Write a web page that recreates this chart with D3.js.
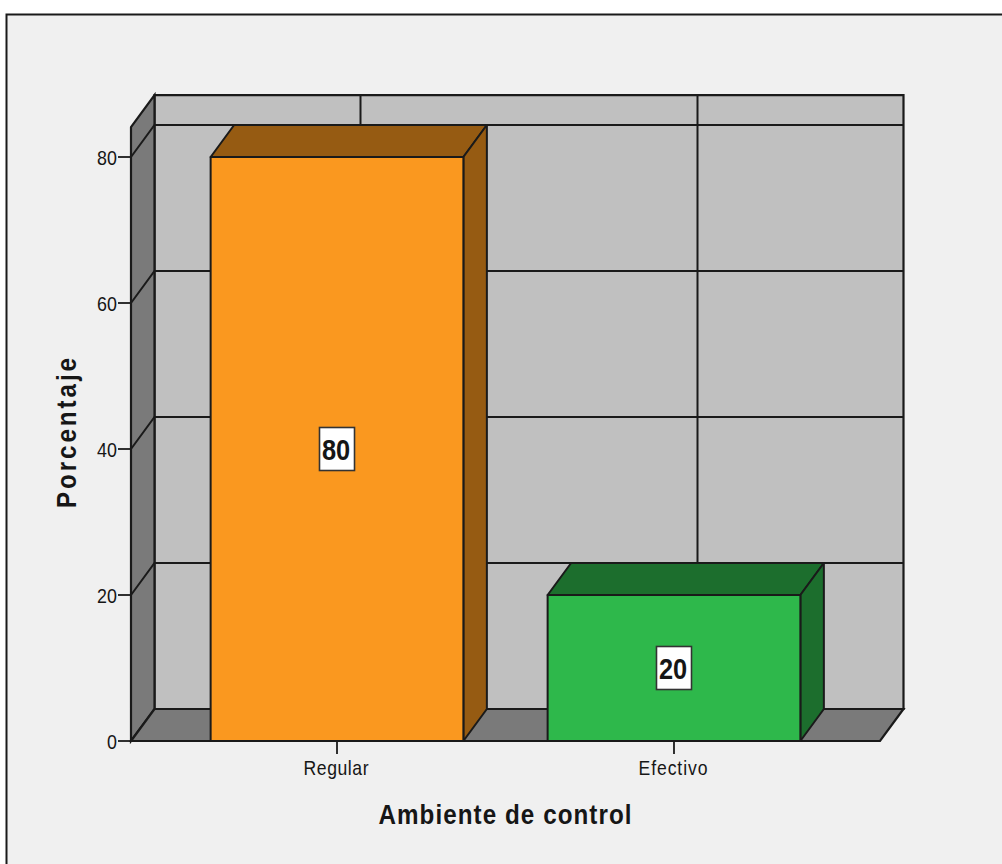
<!DOCTYPE html>
<html lang="es">
<head>
<meta charset="utf-8">
<title>Ambiente de control</title>
<script src="https://cdn.jsdelivr.net/npm/d3@7"></script>
<style>
  html, body { margin: 0; padding: 0; background: #fff; overflow: hidden; }
  svg { display: block; }
  text { font-family: "Liberation Sans", Arial, sans-serif; fill: #161616; }
</style>
</head>
<body>
<svg id="chart" width="1002" height="864"></svg>
<script>
const categories = ["Regular", "Efectivo"];
const percentages = [80, 20];
const frontColors = ["#fa981f", "#2eb84b"];
const shadeColors = ["#965b12", "#1c6e2d"];
const yTicks = [0, 20, 40, 60, 80];
const yTitle = "Porcentaje";
const xTitle = "Ambiente de control";

// Oblique projection of the 3D box
const depthX = 23.5, depthY = 32;
const ink = "#1a1a1a";
// Value at the top edge of the front plane of the box
const boxTopValue = 84.1;

const svg = d3.select("#chart");
const y = d3.scaleLinear().domain([0, 80]).range([741, 157]);
const x = d3.scaleBand().domain(categories).range([131, 880])
  .paddingInner(0.25).paddingOuter(0.2363);

const poly = pts => pts.map(p => p.join(",")).join(" ");
const back = ([px, py]) => [px + depthX, py - depthY];

// Condensed, slightly tracked text: glyphs are narrowed and the run is spread to a set length
function condensed(parent, transform, squeeze, length, size, weight, label) {
  return parent.append("text")
    .attr("transform", `${transform} scale(${squeeze},1)`)
    .attr("text-anchor", "middle")
    .attr("font-size", size).attr("font-weight", weight)
    .attr("textLength", length / squeeze).attr("lengthAdjust", "spacing")
    .text(label);
}

// Panel with its border
svg.append("rect").attr("x", 6.5).attr("y", 14.5).attr("width", 1100).attr("height", 900)
  .attr("fill", "#f0f0f0").attr("stroke", ink).attr("stroke-width", 2);

const [axisLeft, axisRight] = x.range();
const base = y(0), frontTop = y(boxTopValue);

const walls = svg.append("g").attr("stroke", ink).attr("stroke-width", 2.2).attr("stroke-linejoin", "miter");
// Back wall
walls.append("polygon")
  .attr("points", poly([back([axisLeft, base]), back([axisRight, base]), back([axisRight, frontTop]), back([axisLeft, frontTop])]))
  .attr("fill", "#c0c0c0");
// Left wall
walls.append("polygon")
  .attr("points", poly([[axisLeft, base], back([axisLeft, base]), back([axisLeft, frontTop]), [axisLeft, frontTop]]))
  .attr("fill", "#7a7a7a");
// Floor
walls.append("polygon")
  .attr("points", poly([[axisLeft, base], [axisRight, base], back([axisRight, base]), back([axisLeft, base])]))
  .attr("fill", "#7a7a7a");

// Gridlines run along the left wall and across the back wall
const grid = svg.append("g").attr("fill", "none").attr("stroke", ink).attr("stroke-width", 2);
yTicks.filter(t => t > 0).forEach(t => {
  grid.append("polyline")
    .attr("points", poly([[axisLeft, y(t)], back([axisLeft, y(t)]), back([axisRight, y(t)])]));
});
categories.forEach(c => {
  const cx = x(c) + x.bandwidth() / 2;
  grid.append("line")
    .attr("x1", cx + depthX).attr("x2", cx + depthX)
    .attr("y1", base - depthY).attr("y2", frontTop - depthY);
});

// Extruded bars
const bars = svg.append("g").attr("stroke", ink).attr("stroke-width", 2).attr("stroke-linejoin", "round");
categories.forEach((c, i) => {
  const x0 = x(c), x1 = x0 + x.bandwidth(), yv = y(percentages[i]);
  bars.append("polygon")
    .attr("points", poly([[x0, yv], [x1, yv], back([x1, yv]), back([x0, yv])]))
    .attr("fill", shadeColors[i]);
  bars.append("polygon")
    .attr("points", poly([[x1, yv], [x1, base], back([x1, base]), back([x1, yv])]))
    .attr("fill", shadeColors[i]);
  bars.append("rect")
    .attr("x", x0).attr("y", yv).attr("width", x.bandwidth()).attr("height", base - yv)
    .attr("fill", frontColors[i]);
});

// Value labels sit in white boxes at mid-height of the bars
const labels = svg.append("g");
categories.forEach((c, i) => {
  const cx = x(c) + x.bandwidth() / 2, cy = y(percentages[i] / 2);
  labels.append("rect")
    .attr("x", cx - 17.5).attr("y", cy - 21.5).attr("width", 35).attr("height", 43)
    .attr("fill", "#fff").attr("stroke", "#333").attr("stroke-width", 1.6);
  condensed(labels, `translate(${cx - 1},${cy + 10.5})`, 0.875, 28, 29, 700, percentages[i]);
});

// Value axis ticks
const yAxis = svg.append("g");
yTicks.forEach(t => {
  yAxis.append("line").attr("x1", axisLeft - 13).attr("x2", axisLeft)
    .attr("y1", y(t)).attr("y2", y(t)).attr("stroke", ink).attr("stroke-width", 1.8);
  const width = t === 0 ? 10 : 20;
  condensed(yAxis, `translate(${axisLeft - 14 - width / 2},${y(t) + 7.5})`, 0.85, width, 21, 400, t);
});

// Category ticks and labels
const xAxis = svg.append("g");
categories.forEach(c => {
  const cx = x(c) + x.bandwidth() / 2;
  xAxis.append("line").attr("x1", cx).attr("x2", cx).attr("y1", base).attr("y2", base + 13)
    .attr("stroke", ink).attr("stroke-width", 1.8);
  condensed(xAxis, `translate(${cx - 1},775)`, 0.88, c === "Regular" ? 65 : 69, 20, 400, c);
});

// Axis titles
condensed(svg, "translate(505,824)", 0.88, 253, 27.5, 700, xTitle);
condensed(svg, "translate(76,433) rotate(-90)", 0.88, 150, 27.5, 700, yTitle);
</script>
</body>
</html>
